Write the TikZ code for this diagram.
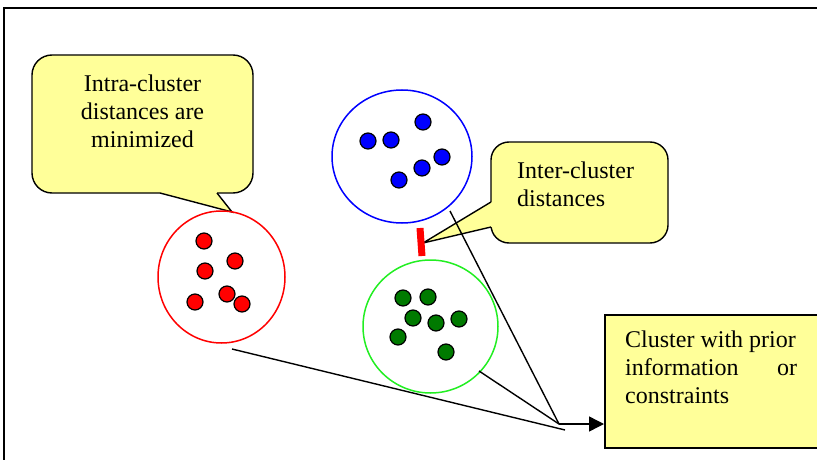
\documentclass[tikz,border=0pt]{standalone}
\usepackage{fontspec}
\setmainfont{Liberation Serif}
\usetikzlibrary{shapes.geometric,arrows.meta}
\definecolor{note}{HTML}{FFFF99}
\definecolor{redc}{HTML}{FF0000}
\definecolor{bluec}{HTML}{0000FF}
\definecolor{greenring}{HTML}{22EE22}
\definecolor{greendot}{HTML}{007A00}
\tikzset{
  ring/.style={ellipse, line width=1.5pt, inner sep=0pt},
  dot/.style={circle, draw=black, line width=1.2pt, minimum size=16pt, inner sep=0pt},
  bubble/.style={draw=black, line width=1.4pt, fill=note},
  txt/.style={inner sep=0pt, font=\fontsize{24}{28}\selectfont},
  link/.style={draw=black, line width=1.4pt},
}
\begin{document}
\begin{tikzpicture}[x=1pt,y=-1pt]
\useasboundingbox (0,0) rectangle (817,460);
\clip (0,0) rectangle (817,460);

% outer frame
\draw[line width=1.8pt] (4,470) -- (4,8) -- (830,8);

% intra-cluster callout
\draw[bubble, rounded corners=20pt] (32,55) rectangle (253,193);
\fill[note] (160,193) -- (232,212) -- (217,193) -- (217,189) -- (160,189) -- cycle;
\coordinate (intratip) at (232,212);
\draw[line width=1.4pt, line join=miter] (160,193) -- (intratip) -- (217,193);
\node[txt, anchor=base] (intratext) at (142.5,92)
  {\parbox[t]{210pt}{\centering Intra-cluster\\distances are\\minimized}};

% inter-cluster callout
\draw[bubble, rounded corners=18pt] (491,142) rectangle (668,243);
\fill[note] (491,202) -- (423,243) -- (491,227) -- (495,227) -- (495,202) -- cycle;
\coordinate (intertip) at (423,243);
\draw[line width=1.4pt, line join=miter] (491,202) -- (intertip) -- (491,227);
\node[txt, anchor=base west] (intertext) at (517,178)
  {\parbox[t]{150pt}{Inter-cluster\\distances}};

% clusters
\node[ring, draw=redc, minimum width=127pt, minimum height=132pt] (redcl) at (221.5,277) {};
\node[ring, draw=bluec, minimum width=140pt, minimum height=133pt] (bluecl) at (402,156.5) {};
\node[ring, draw=greenring, minimum width=135pt, minimum height=133pt] (greencl) at (430.5,326.5) {};

% red points
\foreach \p/\q [count=\i] in {204/241, 235/261, 205/271, 195/302, 227/294, 242/304}
  \node[dot, fill=redc] (r\i) at (\p,\q) {};
% blue points
\foreach \p/\q [count=\i] in {368/141, 391/140, 423/122, 442/157, 422/168, 399/180}
  \node[dot, fill=bluec] (b\i) at (\p,\q) {};
% green points
\foreach \p/\q [count=\i] in {403/298, 428/297, 413/318, 436/323, 459/319, 398/337, 446/352}
  \node[dot, fill=greendot] (g\i) at (\p,\q) {};

% gap between blue and green clusters
\draw[redc, line width=7pt] (420,228) -- (422,256);

% constraint box
\node[draw=black, line width=1.5pt, fill=note, anchor=north west,
      minimum width=230pt, minimum height=133pt, inner sep=0pt] (box) at (604,314) {};
\node[txt, anchor=base west] (boxtext) at (625,347)
  {\parbox[t]{172pt}{Cluster with prior\\\hbox to 172pt{information\hfill or}\\constraints}};

% connectors to the box
\coordinate (hub) at (559,424);
\coordinate (redend) at (565,430);
\coordinate (a1) at (232,349);
\coordinate (a2) at (450,211);
\coordinate (a3) at (479,371);
\draw[link] (a1) -- (redend);
\draw[link] (a2) -- (hub);
\draw[link] (a3) -- (hub);
\draw[link, -{Triangle[length=15pt,width=15pt]}] (hub) -- (box.west |- hub);
\end{tikzpicture}
\end{document}
